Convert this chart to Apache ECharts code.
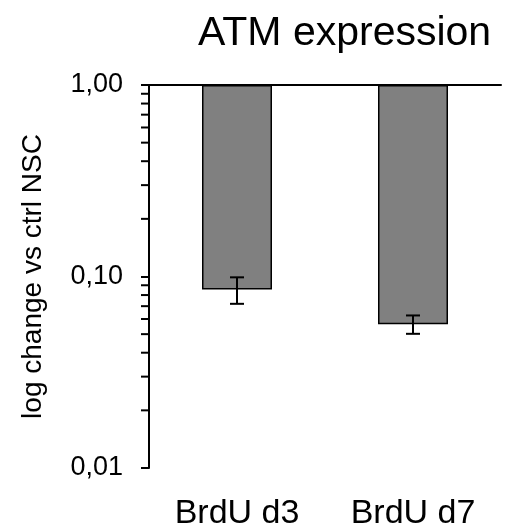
<!DOCTYPE html>
<html>
<head>
<meta charset="utf-8">
<script src="https://cdn.jsdelivr.net/npm/echarts@6/dist/echarts.min.js"></script>
<style>
  html, body { margin: 0; padding: 0; background: #fff; }
  #chart { width: 512px; height: 531px; }
</style>
</head>
<body>
<div id="chart"></div>
<script>
  const categories = ['BrdU d3', 'BrdU d7']
  const values = [0.0855, 0.0564]
  const errors = [0.0135, 0.0062]
  // log axis minor ticks (2..9 of each decade)
  const minorTicks = [0.02, 0.03, 0.04, 0.05, 0.06, 0.07, 0.08, 0.09,
    0.2, 0.3, 0.4, 0.5, 0.6, 0.7, 0.8, 0.9]

  const font = '"Liberation Sans", Arial, sans-serif'
  const chart = echarts.init(document.getElementById('chart'), null, { renderer: 'canvas' })

  chart.setOption({
    animation: false,
    title: {
      text: 'ATM expression',
      left: 198,
      top: 13,
      padding: 0,
      textStyle: { fontFamily: font, fontSize: 41, fontWeight: 'normal', color: '#000' }
    },
    grid: { left: 149, right: 11, top: 85, bottom: 62, containLabel: false },
    xAxis: [
      {
        type: 'category',
        data: categories,
        position: 'top',
        axisLine: { show: true, onZero: false, lineStyle: { color: '#000', width: 2 } },
        axisTick: { show: false },
        axisLabel: { show: false },
        splitLine: { show: false }
      },
      {
        type: 'category',
        data: categories,
        position: 'bottom',
        axisLine: { show: false, onZero: false },
        axisTick: { show: false },
        axisLabel: { show: true, margin: 29, fontFamily: font, fontSize: 34, color: '#000' },
        splitLine: { show: false }
      }
    ],
    yAxis: {
      type: 'log',
      logBase: 10,
      min: 0.01,
      max: 1,
      name: 'log change vs ctrl NSC',
      nameLocation: 'middle',
      nameGap: 102,
      nameTextStyle: { fontFamily: font, fontSize: 28, color: '#000' },
      axisLine: { show: true, lineStyle: { color: '#000', width: 2 } },
      axisTick: { show: true, inside: false, length: 8, lineStyle: { color: '#000', width: 2 } },
      axisLabel: {
        margin: 26,
        fontFamily: font,
        fontSize: 27,
        color: '#000',
        formatter: (v) => Number(v).toFixed(2).replace('.', ',')
      },
      splitLine: { show: false }
    },
    series: [
      {
        type: 'bar',
        xAxisIndex: 0,
        data: values,
        barWidth: 70,
        itemStyle: { color: '#808080', borderColor: '#000', borderWidth: 1.5 }
      },
      {
        type: 'custom',
        xAxisIndex: 0,
        data: values.map((v, i) => [i, v - errors[i], v + errors[i]]),
        z: 5,
        renderItem: (params, api) => {
          const lo = api.coord([api.value(0), api.value(1)])
          const hi = api.coord([api.value(0), api.value(2)])
          const x = lo[0]
          const cap = 7
          const style = { stroke: '#000', lineWidth: 2 }
          return {
            type: 'group',
            children: [
              { type: 'line', shape: { x1: x, y1: lo[1], x2: x, y2: hi[1] }, style },
              { type: 'line', shape: { x1: x - cap, y1: lo[1], x2: x + cap, y2: lo[1] }, style },
              { type: 'line', shape: { x1: x - cap, y1: hi[1], x2: x + cap, y2: hi[1] }, style }
            ]
          }
        }
      },
      {
        type: 'custom',
        xAxisIndex: 0,
        data: minorTicks.map((v) => [0, v]),
        silent: true,
        renderItem: (params, api) => {
          const y = api.coord([0, api.value(1)])[1]
          const x0 = params.coordSys.x
          return {
            type: 'line',
            shape: { x1: x0 - 8, y1: y, x2: x0, y2: y },
            style: { stroke: '#000', lineWidth: 2 }
          }
        }
      }
    ]
  })
</script>
</body>
</html>
